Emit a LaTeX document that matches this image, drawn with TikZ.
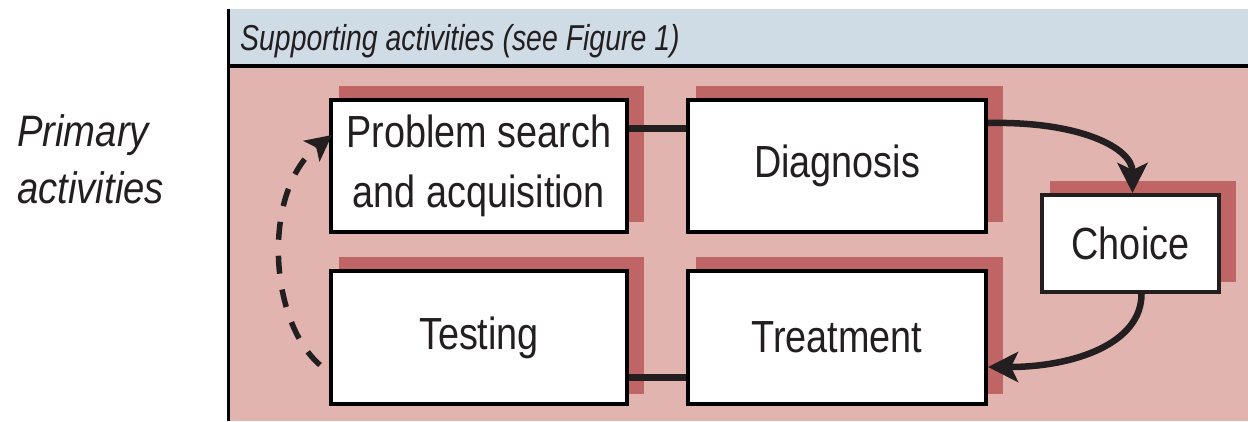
\documentclass[tikz,border=0pt]{standalone}
\usepackage{fontspec}
\setmainfont{Liberation Sans}
\newfontfamily\narrowf[FakeStretch=0.84]{Liberation Sans}
\newfontfamily\hdrf[FakeStretch=0.79]{Liberation Sans}
\newfontfamily\primf[FakeStretch=0.87]{Liberation Sans}
\usetikzlibrary{arrows.meta,calc,backgrounds}
\definecolor{pinkbg}{HTML}{E2B4AF}
\definecolor{shadowc}{HTML}{C06565}
\definecolor{bandc}{HTML}{CFDBE5}
\definecolor{txt}{HTML}{231F20}
\begin{document}
\begin{tikzpicture}[x=1pt,y=-1pt,
  box/.style={draw=black,line width=4pt,fill=white,inner sep=0pt,align=center,text=txt,
    font={\narrowf\fontsize{45}{60}\selectfont}},
  conn/.style={line width=7pt,draw=txt},
  curvarrow/.style={line width=6.5pt,draw=txt,-{Stealth[length=30pt,width=30pt,inset=7pt]}},
  dasharrow/.style={line width=5.5pt,draw=txt,dash pattern=on 18pt off 16pt,-{Stealth[length=26pt,width=26pt,inset=6pt]}},
  shadowbox/.style={fill=shadowc}]
\useasboundingbox (0,0) rectangle (1248,421);
% boxes
\node[box,minimum width=296pt,minimum height=132pt] (p) at (479,166) {Problem search\\and acquisition};
\node[box,minimum width=298pt,minimum height=132pt] (d) at (837,166) {Diagnosis};
\node[box,minimum width=177pt,minimum height=97pt,draw=txt] (c) at (1130.5,243.5) {Choice};
\node[box,minimum width=296pt,minimum height=133pt] (t) at (479,337.5) {Testing};
\node[box,minimum width=298pt,minimum height=133pt] (tr) at (837,337.5) {Treatment};
% labels
\node[anchor=base west,inner sep=0pt,text=txt,font={\hdrf\itshape\fontsize{36}{40}\selectfont}] (hdr) at (240,50) {Supporting activities (see Figure 1)};
\node[anchor=base west,inner sep=0pt,align=left,text=txt,font={\primf\itshape\fontsize{44}{57}\selectfont}] (prim) at (17,203) {Primary\\activities};
\begin{scope}[on background layer]
  \fill[pinkbg] (229,66) rectangle (1248,421);
  \fill[bandc] (229,9) rectangle (1248,64);
  \draw[line width=4pt,black] (227,66) -- (1248,66);
  \draw[line width=3.5pt,black] (228.5,9) -- (228.5,421);
  \foreach \n in {p,d,c,t,tr}
    \fill[shadowc] ($(\n.south west)+(10,-12)$) rectangle ($(\n.north east)+(15,-12)$);
\end{scope}
% connectors
\draw[conn] ([yshift=-30pt]p.north east) -- ([yshift=-30pt]d.north west);
\draw[conn] ([yshift=29pt]t.south east) -- ([yshift=29pt]tr.south west);
\coordinate (d1) at ([yshift=-25pt]d.north east);
\coordinate (c1) at ([xshift=2pt]c.north);
\draw[curvarrow] (d1) .. controls ($(d1)+(92,-2)$) and ($(c1)+(0,-45)$) .. (c1);
\coordinate (c2) at ([xshift=11pt]c.south);
\coordinate (tr1) at ([yshift=39pt]tr.south east);
\draw[curvarrow] (c2) .. controls ($(c2)+(0,50)$) and ($(tr1)+(85,0)$) .. (tr1);
\coordinate (t1) at ([xshift=-9pt,yshift=41pt]t.south west);
\coordinate (p1) at ([xshift=3pt,yshift=-37pt]p.north west);
\draw[dasharrow] (t1) .. controls ($(t1)+(-52,-45)$) and ($(p1)+(-70,55)$) .. (p1);
\end{tikzpicture}
\end{document}
